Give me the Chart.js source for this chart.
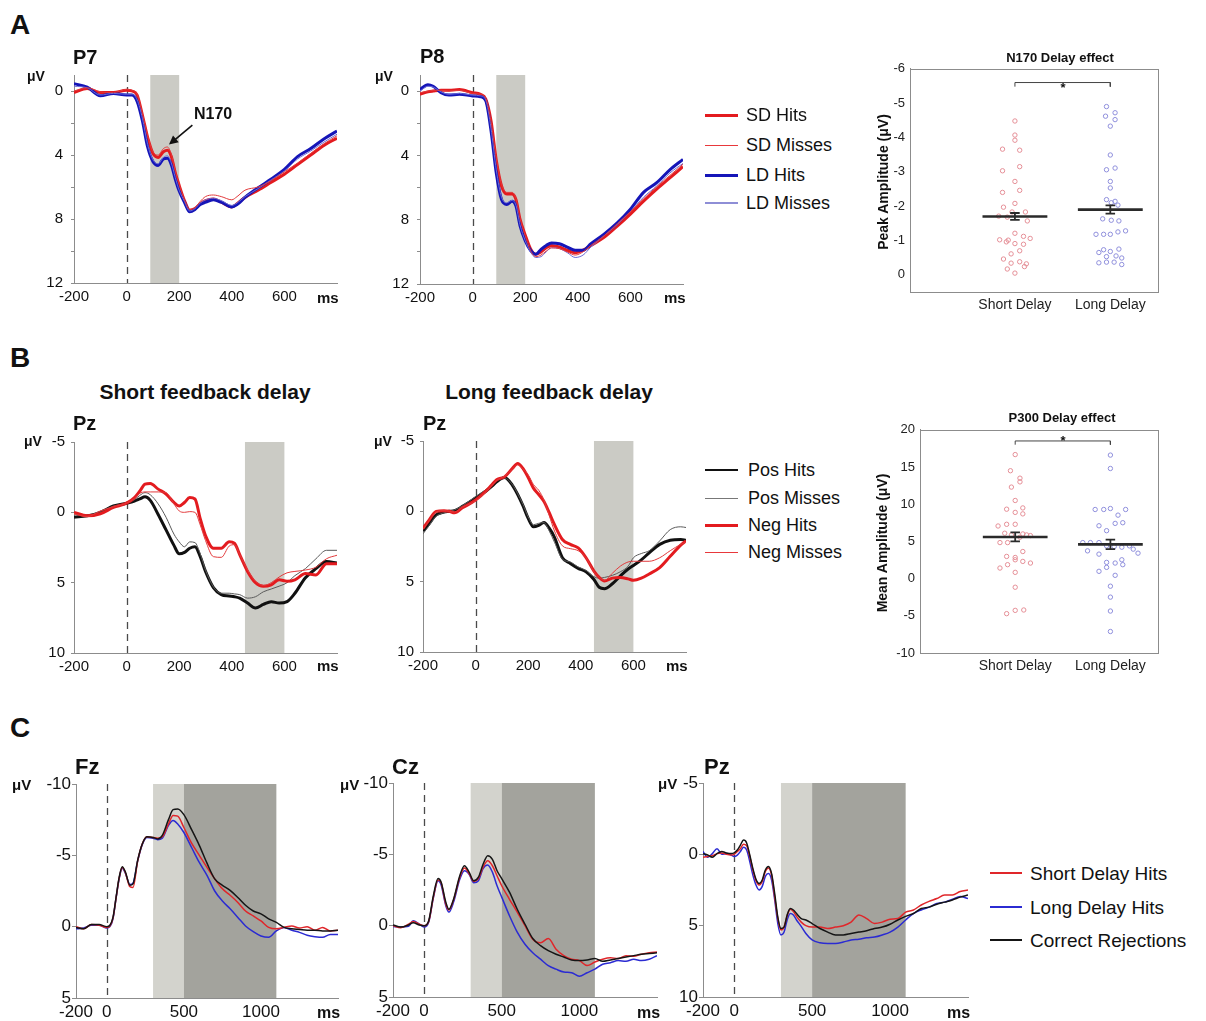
<!DOCTYPE html>
<html><head><meta charset="utf-8">
<script src="https://cdn.jsdelivr.net/npm/chart.js@4.4.1/dist/chart.umd.min.js"></script>
<style>
html,body{margin:0;padding:0;background:#fff;}
#root{position:relative;width:1206px;height:1021px;overflow:hidden;font-family:'Liberation Sans',Arial,Helvetica,sans-serif;color:#111;}
#root canvas{position:absolute;}
.t{position:absolute;white-space:nowrap;line-height:1;}
.ln{position:absolute;}
</style></head><body><div id="root"></div>
<script>
// ---------------- DATA ----------------
// Panel A - P7
const tP7 = [-200,-150,-100,-50,0,20,40,60,80,100,120,140,155,170,185,200,220,240,260,280,300,330,360,400,420,450,500,550,600,650,700,750,800];
const p7SDHits = [0.1,-0.15,0.1,0.1,-0.05,0.0,0.25,1.5,2.9,3.9,4.15,3.8,3.7,4.1,5.1,5.9,6.85,7.45,7.35,7.05,6.85,6.75,6.95,7.25,7.05,6.65,6.2,5.7,5.2,4.6,4.0,3.4,2.95];
const p7SDMiss = [0.0,-0.2,0.05,0.1,-0.1,-0.05,0.2,1.4,2.8,3.8,4.0,3.6,3.5,3.95,5.0,5.85,6.8,7.4,7.3,6.9,6.6,6.5,6.6,6.8,6.6,6.2,6.0,5.6,5.05,4.5,3.9,3.3,2.8];
const p7LDHits = [-0.45,-0.25,0.3,0.15,0.25,0.25,0.65,1.85,3.5,4.4,4.65,4.25,4.2,4.6,5.5,6.25,6.95,7.55,7.4,7.1,6.95,6.8,6.95,7.25,7.1,6.65,6.05,5.5,4.9,4.1,3.6,3.0,2.5];
const p7LDMiss = [-0.3,-0.2,0.25,0.15,0.2,0.2,0.55,1.7,3.35,4.3,4.55,4.15,4.05,4.5,5.4,6.2,6.9,7.5,7.35,7.0,6.8,6.7,6.85,7.15,7.0,6.6,6.1,5.55,5.0,4.25,3.75,3.2,2.7];
// Panel A - P8
const tP8 = [-200,-170,-150,-120,-90,-50,0,30,50,70,90,110,130,150,165,180,200,220,240,260,280,300,330,360,390,420,450,500,550,600,650,700,750,800];
const p8SDHits = [0.2,0.05,0,-0.05,-0.05,-0.1,0.1,0.2,0.5,1.85,4.3,5.9,6.4,6.4,6.75,7.95,8.95,9.8,10.15,10.0,9.75,9.6,9.7,9.9,10.05,9.9,9.6,9.1,8.4,7.65,6.85,6.1,5.4,4.7];
const p8SDMiss = [0.1,0.0,-0.05,-0.05,0,-0.05,0.15,0.2,0.45,1.9,4.2,5.8,6.3,6.3,6.7,7.9,9.0,9.9,10.3,10.2,9.95,9.75,9.8,10.0,10.2,10.0,9.6,9.0,8.25,7.5,6.7,5.95,5.25,4.55];
const p8LDHits = [-0.1,-0.4,-0.3,0.1,0.25,0.2,0.3,0.35,0.6,2.45,5.1,6.75,7.05,6.85,7.15,8.35,9.3,9.9,10.15,9.85,9.6,9.45,9.5,9.7,9.9,9.9,9.5,8.9,8.2,7.35,6.3,5.7,4.9,4.25];
const p8LDMiss = [0.0,-0.3,-0.25,0.05,0.2,0.15,0.25,0.3,0.55,2.3,4.9,6.6,6.95,6.8,7.1,8.3,9.3,10.0,10.35,10.3,10.0,9.75,9.8,10.05,10.35,10.2,9.7,9.0,8.3,7.5,6.6,5.9,5.1,4.5];
// Panel B - Pz short feedback delay
const tBS = [-200,-150,-100,-50,0,30,50,70,90,120,150,180,200,220,240,260,280,300,330,360,390,410,430,460,490,520,550,580,610,640,680,720,760,800];
const bsPosHits = [0.35,0.25,0.0,-0.45,-0.65,-0.8,-0.95,-1.1,-0.85,0.15,1.25,2.35,2.95,2.85,2.55,2.45,3.15,4.2,5.35,5.85,5.95,6.0,6.1,6.45,6.8,6.55,6.35,6.45,6.35,5.75,4.65,4.0,3.5,3.6];
const bsPosMiss = [0.1,0.2,-0.05,-0.45,-0.65,-0.9,-1.2,-1.4,-1.25,-0.6,0.35,1.55,2.1,2.45,2.1,2.15,2.95,4.1,5.3,5.75,5.75,5.8,5.85,6.1,6.0,5.65,5.45,5.25,5.0,4.5,4.0,3.3,2.7,2.7];
const bsNegHits = [0,0.25,0.1,-0.35,-0.65,-1.05,-1.5,-2.0,-2.05,-1.65,-1.3,-0.7,-0.45,-0.7,-1.05,-0.95,0.45,1.65,2.55,2.55,2.1,2.2,3.0,4.2,5.0,5.25,5.15,4.8,4.9,4.8,4.35,4.45,3.65,3.65];
const bsNegMiss = [0.1,0.3,-0.1,-0.4,-0.65,-1.0,-1.35,-1.45,-1.45,-1.45,-1.4,-0.6,-0.1,0.0,-0.05,0.0,0.9,2.0,3.15,3.2,2.4,2.3,3.0,4.1,4.9,5.2,5.0,4.6,4.3,4.2,4.1,3.9,3.3,3.05];
// Panel B - Pz long feedback delay
const tBL = [-200,-180,-150,-120,-100,-80,-50,0,40,60,80,110,140,160,180,200,220,240,260,280,300,330,360,390,420,450,470,490,520,550,580,600,630,660,700,740,780,800];
const blPosHits = [1.4,0.95,0.25,0.05,0.0,-0.05,-0.35,-0.95,-1.45,-1.75,-2.1,-2.4,-1.85,-1.2,-0.4,0.5,1.1,1.0,0.8,1.2,1.85,3.3,3.7,4.05,4.3,4.85,5.4,5.5,5.15,4.6,4.1,3.85,3.45,2.95,2.35,2.05,2.0,2.05];
const blPosMiss = [1.6,1.1,0.35,0.1,0.0,-0.1,-0.4,-1.05,-1.55,-1.8,-2.15,-2.35,-1.9,-1.25,-0.5,0.4,0.95,0.85,0.8,1.4,2.2,3.4,3.6,3.95,4.2,4.65,4.75,4.7,4.55,4.3,3.9,3.3,3.0,2.8,2.1,1.3,1.1,1.15];
const blNegHits = [1.2,0.7,0.0,-0.05,0.0,0.1,-0.25,-0.8,-1.45,-1.85,-2.25,-2.45,-3.05,-3.4,-3.05,-2.4,-1.65,-1.2,-0.7,0.1,0.95,2.0,2.35,2.6,3.3,4.25,4.7,4.95,4.75,4.7,4.8,4.9,4.75,4.45,4.0,3.2,2.4,2.1];
const blNegMiss = [1.3,0.75,0.05,-0.05,0.0,0.05,-0.3,-0.75,-1.4,-1.8,-2.2,-2.5,-3.0,-3.3,-3.0,-2.6,-1.9,-1.5,-0.8,0.3,1.4,2.45,2.65,2.8,3.3,4.3,4.7,4.9,4.4,3.9,3.6,3.55,3.55,3.55,3.3,2.8,2.35,2.2];
// Panel C - Fz
const tFz = [-200,-150,-100,-50,0,20,40,60,80,100,120,150,170,200,230,260,300,330,360,400,430,460,500,550,600,650,700,750,800,850,900,950,1000,1050,1100,1150,1200,1250,1300,1350,1400,1450,1500];
const fzCR = [0.05,0.15,-0.15,-0.15,0,-0.1,-0.65,-2.05,-3.45,-4.2,-3.85,-2.9,-3.0,-4.65,-5.8,-6.3,-6.25,-6.15,-6.4,-7.5,-8.2,-8.25,-7.85,-6.8,-5.7,-4.45,-3.35,-2.9,-2.55,-2.05,-1.5,-1.1,-0.9,-0.55,-0.3,0.05,0.15,0.2,0.25,0.25,0.3,0.3,0.25];
const fzSD = [0.0,0.15,-0.15,-0.1,0.05,-0.05,-0.6,-2.0,-3.4,-4.15,-3.8,-2.8,-2.75,-4.6,-5.8,-6.3,-6.25,-6.2,-6.3,-7.2,-7.8,-7.75,-6.95,-5.85,-5.0,-4.15,-3.35,-2.65,-2.2,-1.7,-1.1,-0.75,-0.4,0.05,0.15,0.05,-0.05,0.1,0.0,0.25,0.05,0.3,0.25];
const fzLD = [0.15,0.1,-0.1,-0.1,0.1,0.0,-0.55,-2.0,-3.35,-4.1,-3.75,-2.95,-3.05,-4.6,-5.75,-6.25,-6.2,-6.1,-6.2,-7.1,-7.45,-7.2,-6.6,-5.55,-4.5,-3.6,-2.5,-1.8,-1.25,-0.65,-0.05,0.35,0.65,0.75,0.3,0.05,0.25,0.4,0.6,0.7,0.75,0.55,0.55];
// Panel C - Cz
const tCz = [-200,-150,-100,-70,-30,0,30,60,90,110,140,160,190,230,260,290,320,350,380,410,440,470,500,550,600,650,700,750,800,850,900,950,1000,1050,1100,1150,1200,1250,1300,1350,1400,1450,1500];
const czCR = [-0.05,0.1,-0.05,-0.2,-0.05,0,-0.35,-2.1,-3.3,-3.05,-1.65,-1.15,-1.85,-3.5,-4.2,-3.75,-3.15,-3.4,-4.3,-4.9,-4.65,-3.85,-3.3,-2.35,-1.15,-0.1,0.9,1.4,1.75,2.0,2.2,2.4,2.45,2.4,2.3,2.5,2.4,2.3,2.2,2.1,2.0,1.95,1.9];
const czSD = [0.0,0.15,-0.1,-0.3,-0.1,0.0,-0.3,-2.0,-3.2,-3.0,-1.5,-1.1,-1.8,-3.4,-4.05,-3.65,-3.1,-3.3,-4.1,-4.55,-4.2,-3.5,-2.8,-1.85,-0.95,0.0,0.95,1.2,0.9,1.65,2.1,2.35,2.45,2.8,2.55,2.35,2.25,2.3,2.1,2.15,2.0,1.9,1.85];
const czLD = [0.05,0.1,0.05,-0.35,-0.1,0.1,-0.25,-1.95,-3.15,-2.85,-1.4,-0.95,-1.65,-3.25,-3.85,-3.6,-3.0,-3.15,-4.0,-4.25,-3.75,-2.8,-2.0,-0.7,0.45,1.3,1.9,2.35,2.8,3.05,3.25,3.3,3.55,3.3,3.05,2.7,2.6,2.45,2.5,2.35,2.45,2.35,2.1];
// Panel C - Pz
const tPzC = [-200,-170,-140,-110,-80,-50,-20,0,20,40,60,80,100,120,140,160,180,200,220,240,260,280,300,320,340,360,380,400,430,460,500,550,600,650,700,750,800,850,900,950,1000,1050,1100,1150,1200,1250,1300,1350,1400,1450,1500];
const pzCR = [-0.05,0.05,0.2,-0.05,-0.2,-0.1,-0.05,-0.1,-0.3,-0.65,-1.0,-0.8,0.05,1.0,1.75,2.05,1.8,1.1,0.85,1.35,2.75,4.4,5.2,5.1,4.25,3.8,3.9,4.15,4.5,4.6,4.85,5.2,5.45,5.65,5.65,5.55,5.45,5.35,5.2,5.1,4.9,4.6,4.35,4.15,3.8,3.7,3.5,3.35,3.2,3.0,2.85];
const pzSD = [0.2,0.15,0.1,-0.05,-0.1,0.0,0.05,0.0,-0.2,-0.4,-0.7,-0.6,0.15,1.1,1.85,2.15,1.9,1.2,0.95,1.45,3.0,4.5,5.3,5.1,4.3,3.85,4.0,4.35,4.75,5.0,5.1,5.1,5.2,5.1,5.0,4.75,4.25,4.5,4.85,4.75,4.55,4.5,4.05,3.9,3.55,3.3,3.1,2.85,2.85,2.6,2.5];
const pzLD = [-0.2,0.2,-0.05,-0.4,0.0,-0.05,0.05,0.15,0.05,-0.2,-0.5,-0.3,0.5,1.45,2.15,2.5,2.25,1.55,1.35,1.8,3.2,4.85,5.65,5.45,4.6,4.15,4.25,4.6,5.05,5.55,6.0,6.2,6.25,6.25,6.15,6.0,5.95,5.85,5.8,5.65,5.45,5.1,4.6,4.15,3.9,3.7,3.45,3.35,3.15,2.95,3.1];
// Shaded analysis windows (ms)
const winN170 = [90, 200];
const winP300 = [450, 600];
const winCEarly = [300, 500];
const winCLate = [500, 1100];
// Tick values
const xTicksAB = [-200, 0, 200, 400, 600];
const xTicksC = [-200, 0, 500, 1000];
const yTicksA = [0, 2, 4, 6, 8, 10, 12];
const yLabelsA = [0, 4, 8, 12];
const yTicksB = [-5, 0, 5, 10];
const yTicksCa = [-10, -5, 0, 5];
const yTicksCb = [-5, 0, 5, 10];
// Scatter: categories and per-subject values (jitter = horizontal spread)
const categories = ['Short Delay', 'Long Delay'];
const n170Short = [-4.48,-4.07,-3.92,-3.66,-3.63,-3.15,-3.03,-2.72,-2.40,-2.46,-1.97,-2.08,-1.83,-1.83,-1.71,-1.57,-1.68,-1.21,-1.12,-1.02,-1.01,-0.96,-1.06,-0.91,-0.89,-0.70,-0.61,-0.46,-0.38,-0.34,-0.32,-0.24,-0.17,-0.05];
const n170ShortJit = [0,0,0,-0.13,0.05,0.05,-0.13,0,-0.13,0.05,-0.12,0,-0.03,0.11,-0.17,0.13,-0.08,0,0.09,-0.16,-0.07,-0.09,0.16,0,0.09,0.05,-0.04,-0.12,0.05,-0.04,0.12,0.1,-0.08,0];
const n170Long = [-4.90,-4.62,-4.72,-4.52,-4.33,-3.49,-3.06,-3.11,-2.72,-2.53,-2.19,-2.14,-2.03,-2.10,-1.63,-1.59,-1.57,-1.18,-1.18,-1.18,-1.25,-1.28,-0.73,-0.68,-0.75,-0.65,-0.53,-0.55,-0.49,-0.35,-0.37,-0.37,-0.30];
const n170LongJit = [-0.04,-0.05,0.05,0.05,0,0,-0.04,0.05,0,0,-0.04,0.05,0.08,0.01,-0.08,0.01,0.09,-0.15,-0.07,0,0.08,0.16,-0.07,0,0.09,-0.12,-0.04,0.06,0.12,-0.12,-0.04,0.04,0.12];
const n170Mean = [-1.7, -1.9];
const n170SE = [0.1, 0.12];
const p300Short = [16.67,14.5,13.5,13.0,12.3,10.5,9.33,9.5,8.9,8.7,7.07,7.3,7.3,6.1,6.0,5.87,5.87,5.78,5.56,4.84,4.84,3.64,2.98,2.84,2.53,2.31,2.09,1.87,1.42,0.84,-1.16,-4.27,-4.22,-4.71];
const p300ShortJit = [0,-0.05,0.05,0.05,-0.04,0,-0.09,0.08,0,0.08,-0.18,-0.09,0,-0.11,0.08,-0.04,0.12,0.16,0.05,-0.16,-0.08,0.08,-0.09,0,0,0.08,0.16,-0.08,-0.16,0,0,0,0.09,-0.09];
const p300Long = [16.6,14.8,9.29,9.29,9.42,9.29,8.53,7.1,7.42,7.51,6.44,4.84,4.84,4.84,4.4,4.31,4.22,4.4,3.96,3.42,3.73,3.29,2.53,2.18,2.09,1.87,1.51,0.98,0.44,-1.02,-2.49,-4.36,-7.11];
const p300LongJit = [0,0,-0.16,-0.07,0,0.16,0.08,-0.12,0.05,0.13,-0.04,-0.29,-0.21,-0.12,-0.04,0.04,0.12,0.2,0.24,0.29,-0.24,-0.12,0.12,-0.04,0.05,0.13,-0.04,-0.12,0.05,0,0,0,0];
const p300Mean = [5.6, 4.6];
const p300SE = [0.6, 0.65];

// ---------------- RENDERING ----------------
const FONT = "'Liberation Sans', Arial, Helvetica, sans-serif";
Chart.defaults.font.family = FONT;
const root = document.getElementById('root');
const AXC = '#8c8c8c';

function txt(s, x, y, size, bold, align, extra, color) {
  const d = document.createElement('div');
  d.className = 't'; d.textContent = s;
  d.style.left = x + 'px'; d.style.top = y + 'px';
  d.style.fontSize = size + 'px'; d.style.fontWeight = bold ? 'bold' : 'normal';
  if (color) d.style.color = color;
  const tx = align === 'center' ? '-50%' : (align === 'right' ? '-100%' : '0');
  d.style.transform = 'translate(' + tx + ',-50%)' + (extra || '');
  root.appendChild(d);
}
function legend(x1, x2, tx, rows, size) {
  rows.forEach(r => {
    const l = document.createElement('div');
    l.className = 'ln';
    l.style.left = x1 + 'px'; l.style.width = (x2 - x1) + 'px';
    l.style.top = Math.round(r.y - r.w / 2) + 'px'; l.style.height = Math.max(1, Math.round(r.w)) + 'px';
    l.style.background = r.c;
    root.appendChild(l);
    txt(r.label, tx, r.y, size, false, 'left');
  });
}
function mkCanvas(left, top, w, h) {
  const c = document.createElement('canvas');
  c.width = w; c.height = h;
  c.style.left = left + 'px'; c.style.top = top + 'px';
  c.style.width = w + 'px'; c.style.height = h + 'px';
  root.appendChild(c);
  return c;
}
function series(t, v, color, width, order) {
  return { data: t.map((x, i) => ({ x: x, y: v[i] })), borderColor: color, borderWidth: width,
    pointRadius: 0, fill: false, tension: 0.4, cubicInterpolationMode: 'monotone', order: order };
}

function erp(o) {
  const AX = 60, PT = 12, PR = 14, XH = 32;
  const cv = mkCanvas(o.L - AX, o.T - PT, (o.R - o.L) + AX + PR, (o.B - o.T) + PT + XH);
  const bg = {
    id: 'bg',
    beforeDatasetsDraw(chart) {
      const a = chart.chartArea, xs = chart.scales.x, ctx = chart.ctx;
      ctx.save();
      (o.shades || []).forEach(s => {
        const x0 = xs.getPixelForValue(s[0]), x1 = xs.getPixelForValue(s[1]);
        ctx.fillStyle = s[2];
        ctx.fillRect(x0, a.top, x1 - x0, a.bottom - a.top);
      });
      const z = Math.round(xs.getPixelForValue(0)) + 0.5;
      ctx.strokeStyle = '#4a4a4a'; ctx.lineWidth = 1.3; ctx.setLineDash([7, 5]);
      ctx.beginPath(); ctx.moveTo(z, a.top); ctx.lineTo(z, a.bottom); ctx.stroke();
      ctx.restore();
    },
    afterDatasetsDraw(chart) { if (o.after) o.after(chart); }
  };
  new Chart(cv, {
    type: 'line',
    data: { datasets: o.datasets },
    options: {
      responsive: false, animation: false, devicePixelRatio: 1,
      layout: { padding: { top: PT, right: PR, left: 0, bottom: 0 } },
      plugins: { legend: { display: false }, tooltip: { enabled: false } },
      scales: {
        x: { type: 'linear', min: o.xMin, max: o.xMax,
          afterBuildTicks: s => { s.ticks = o.xTicks.map(v => ({ value: v })); },
          afterFit: s => { s.height = XH; },
          ticks: { font: { size: o.fs, family: FONT }, color: '#111', padding: o.xPad, maxRotation: 0, autoSkip: false, callback: v => String(v) },
          grid: { drawOnChartArea: false, drawTicks: false },
          border: { display: true, color: AXC, width: 1 } },
        y: { type: 'linear', reverse: true, min: o.yMin, max: o.yMax,
          afterBuildTicks: s => { s.ticks = o.yTicks.map(v => ({ value: v })); },
          afterFit: s => { s.width = AX; },
          ticks: { font: { size: o.fs, family: FONT }, color: '#111', padding: o.yPad, autoSkip: false,
            callback: v => (o.yLabels ? (o.yLabels.includes(v) ? String(v) : '') : String(v)) },
          grid: { drawOnChartArea: false, drawTicks: true, tickLength: o.tl, tickColor: AXC },
          border: { display: true, color: AXC, width: 1 } }
      }
    },
    plugins: [bg]
  });
}

function scatter(o) {
  const AX = 45, PT = 12, PR = 14, XH = 30;
  const cv = mkCanvas(o.L - AX, o.T - PT, (o.R - o.L) + AX + PR, (o.B - o.T) + PT + XH);
  const ds = [];
  o.groups.forEach((g, gi) => {
    const cx = gi + 1;
    ds.push({ type: 'scatter', data: g.vals.map((v, i) => ({ x: cx + g.jit[i], y: v })),
      pointRadius: 2.2, pointBorderWidth: 1, pointBorderColor: g.color, pointBackgroundColor: 'rgba(0,0,0,0)', showLine: false, order: 5 });
    const m = o.mean[gi], se = o.se[gi], c = 0.05, hw = 0.34;
    ds.push({ type: 'line', data: [{ x: cx - hw, y: m }, { x: cx + hw, y: m }], borderColor: '#2a2a2a', borderWidth: 2.6, pointRadius: 0, order: 1 });
    ds.push({ type: 'line', data: [{ x: cx - c, y: m - se }, { x: cx + c, y: m - se }, { x: cx, y: null }, { x: cx, y: m - se }, { x: cx, y: m + se }, { x: cx, y: null }, { x: cx - c, y: m + se }, { x: cx + c, y: m + se }],
      borderColor: '#2a2a2a', borderWidth: 1.8, pointRadius: 0, spanGaps: false, order: 0 });
  });
  const b = o.bracket;
  ds.push({ type: 'line', data: [{ x: 1, y: b[0] + b[1] }, { x: 1, y: b[0] }, { x: 2, y: b[0] }, { x: 2, y: b[0] + b[1] }], borderColor: '#444', borderWidth: 1, pointRadius: 0, order: 2 });
  const frame = { id: 'frame', afterDraw(chart) {
    const a = chart.chartArea, ctx = chart.ctx;
    ctx.save(); ctx.strokeStyle = AXC; ctx.lineWidth = 1;
    ctx.strokeRect(Math.round(a.left) + 0.5, Math.round(a.top) + 0.5, Math.round(a.right - a.left), Math.round(a.bottom - a.top));
    ctx.restore();
  } };
  new Chart(cv, {
    type: 'scatter',
    data: { datasets: ds },
    options: {
      responsive: false, animation: false, devicePixelRatio: 1,
      layout: { padding: { top: PT, right: PR, left: 0, bottom: 0 } },
      plugins: { legend: { display: false }, tooltip: { enabled: false } },
      scales: {
        x: { type: 'linear', min: o.xMin, max: o.xMax,
          afterBuildTicks: s => { s.ticks = [1, 2].map(v => ({ value: v })); },
          afterFit: s => { s.height = XH; },
          ticks: { font: { size: 14, family: FONT }, color: '#222', padding: 5, maxRotation: 0, autoSkip: false, callback: v => categories[v - 1] },
          grid: { drawOnChartArea: false, drawTicks: false },
          border: { display: true, color: AXC } },
        y: { type: 'linear', reverse: o.reverse, min: o.yMin, max: o.yMax,
          afterBuildTicks: s => { s.ticks = o.yTicks.map(v => ({ value: v })); },
          afterFit: s => { s.width = AX; },
          ticks: { font: { size: 13, family: FONT }, color: '#222', padding: 5, autoSkip: false, callback: v => String(v) },
          grid: { drawOnChartArea: false, drawTicks: false },
          border: { display: true, color: AXC } }
      }
    },
    plugins: [frame]
  });
}

// Colours
const RED = '#e31b1f', REDT = '#e23a3c', BLUE = '#1515b8', BLUET = '#6b6bd6', BLK = '#111111', GRY = '#5a5a5a';
const SHADE = '#cbcbc5', SHADE_L = '#d3d3cd', SHADE_D = '#a3a39d';
const CR = '#e0262a', CB = '#2b2bd2', CK = '#151515';

// ---- Row A ----
erp({ L: 74, T: 70, R: 337, B: 283, xMin: -200, xMax: 800, xTicks: xTicksAB, yMin: -1, yMax: 12, yTicks: yTicksA, yLabels: yLabelsA,
  fs: 15, tl: 3, yPad: 8, xPad: 5, shades: [[winN170[0], winN170[1], SHADE]],
  datasets: [series(tP7, p7SDMiss, REDT, 1, 0), series(tP7, p7LDMiss, BLUET, 1, 1), series(tP7, p7LDHits, BLUE, 3, 2), series(tP7, p7SDHits, RED, 3, 3)],
  after: chart => {
    const xs = chart.scales.x, ys = chart.scales.y, ctx = chart.ctx;
    const x1 = xs.getPixelForValue(250), y1 = ys.getPixelForValue(2.14);
    const x2 = xs.getPixelForValue(161), y2 = ys.getPixelForValue(3.35);
    const ang = Math.atan2(y2 - y1, x2 - x1);
    ctx.save(); ctx.strokeStyle = '#111'; ctx.fillStyle = '#111'; ctx.lineWidth = 1.6;
    ctx.beginPath(); ctx.moveTo(x1, y1); ctx.lineTo(x2 - 6 * Math.cos(ang), y2 - 6 * Math.sin(ang)); ctx.stroke();
    ctx.beginPath(); ctx.moveTo(x2, y2);
    ctx.lineTo(x2 - 9 * Math.cos(ang) + 4.5 * Math.sin(ang), y2 - 9 * Math.sin(ang) - 4.5 * Math.cos(ang));
    ctx.lineTo(x2 - 9 * Math.cos(ang) - 4.5 * Math.sin(ang), y2 - 9 * Math.sin(ang) + 4.5 * Math.cos(ang));
    ctx.closePath(); ctx.fill(); ctx.restore();
  } });
erp({ L: 420, T: 70, R: 683, B: 284, xMin: -200, xMax: 800, xTicks: xTicksAB, yMin: -1, yMax: 12, yTicks: yTicksA, yLabels: yLabelsA,
  fs: 15, tl: 3, yPad: 8, xPad: 5, shades: [[winN170[0], winN170[1], SHADE]],
  datasets: [series(tP8, p8SDMiss, REDT, 1, 0), series(tP8, p8LDMiss, BLUET, 1, 1), series(tP8, p8LDHits, BLUE, 3, 2), series(tP8, p8SDHits, RED, 3, 3)] });
scatter({ L: 910, T: 68, R: 1158, B: 292, xMin: -0.1, xMax: 2.5, yMin: -6, yMax: 0.5, reverse: true, yTicks: [-6, -5, -4, -3, -2, -1, 0],
  groups: [{ vals: n170Short, jit: n170ShortJit, color: '#e58f97' }, { vals: n170Long, jit: n170LongJit, color: '#8f8fdc' }],
  mean: n170Mean, se: n170SE, bracket: [-5.6, 0.12] });

// ---- Row B ----
erp({ L: 74, T: 439, R: 337, B: 653, xMin: -200, xMax: 800, xTicks: xTicksAB, yMin: -5, yMax: 10, yTicks: yTicksB,
  fs: 15, tl: 3, yPad: 6, xPad: 5, shades: [[winP300[0], winP300[1], SHADE]],
  datasets: [series(tBS, bsNegMiss, REDT, 1, 0), series(tBS, bsNegHits, RED, 3, 1), series(tBS, bsPosMiss, GRY, 1, 2), series(tBS, bsPosHits, BLK, 3, 3)] });
erp({ L: 423, T: 438, R: 686, B: 652, xMin: -200, xMax: 800, xTicks: xTicksAB, yMin: -5, yMax: 10, yTicks: yTicksB,
  fs: 15, tl: 3, yPad: 6, xPad: 5, shades: [[winP300[0], winP300[1], SHADE]],
  datasets: [series(tBL, blNegMiss, REDT, 1, 0), series(tBL, blNegHits, RED, 3, 1), series(tBL, blPosMiss, GRY, 1, 2), series(tBL, blPosHits, BLK, 3, 3)] });
scatter({ L: 920, T: 429, R: 1158, B: 653, xMin: 0, xMax: 2.5, yMin: -10, yMax: 20, reverse: false, yTicks: [-10, -5, 0, 5, 10, 15, 20],
  groups: [{ vals: p300Short, jit: p300ShortJit, color: '#e58f97' }, { vals: p300Long, jit: p300LongJit, color: '#8f8fdc' }],
  mean: p300Mean, se: p300SE, bracket: [18.5, -0.5] });

// ---- Row C ----
const cShades = [[winCEarly[0], winCEarly[1], SHADE_L], [winCLate[0], winCLate[1], SHADE_D]];
erp({ L: 76, T: 784, R: 338, B: 998, xMin: -200, xMax: 1500, xTicks: xTicksC, yMin: -10, yMax: 5, yTicks: yTicksCa,
  fs: 17, tl: 4, yPad: 1, xPad: 4, shades: cShades,
  datasets: [series(tFz, fzCR, CK, 1.5, 0), series(tFz, fzSD, CR, 1.5, 1), series(tFz, fzLD, CB, 1.5, 2)] });
erp({ L: 393, T: 783, R: 657, B: 997, xMin: -200, xMax: 1500, xTicks: xTicksC, yMin: -10, yMax: 5, yTicks: yTicksCa,
  fs: 17, tl: 4, yPad: 1, xPad: 4, shades: cShades,
  datasets: [series(tCz, czCR, CK, 1.5, 0), series(tCz, czSD, CR, 1.5, 1), series(tCz, czLD, CB, 1.5, 2)] });
erp({ L: 703, T: 783, R: 968, B: 997, xMin: -200, xMax: 1500, xTicks: xTicksC, yMin: -5, yMax: 10, yTicks: yTicksCb,
  fs: 17, tl: 4, yPad: 1, xPad: 4, shades: cShades,
  datasets: [series(tPzC, pzCR, CK, 1.5, 0), series(tPzC, pzSD, CR, 1.5, 1), series(tPzC, pzLD, CB, 1.5, 2)] });

// ---------------- TEXT ----------------
txt('A', 10, 25, 28, true, 'left');
txt('B', 10, 358, 28, true, 'left');
txt('C', 10, 728, 28, true, 'left');
// Row A
txt('P7', 73, 57, 20, true, 'left');
txt('P8', 420, 56, 20, true, 'left');
txt('μV', 27, 76, 14, true, 'left');
txt('μV', 375, 76, 14, true, 'left');
txt('N170', 194, 114, 16, true, 'left');
txt('ms', 317, 297, 15, true, 'left');
txt('ms', 664, 297, 15, true, 'left');
legend(705, 738, 746, [
  { y: 115, c: RED, w: 3, label: 'SD Hits' },
  { y: 145, c: '#e8383b', w: 1, label: 'SD Misses' },
  { y: 175, c: BLUE, w: 3, label: 'LD Hits' },
  { y: 203, c: '#8e8ed6', w: 2, label: 'LD Misses' }], 18);
txt('N170 Delay effect', 1060, 57, 13, true, 'center');
txt('Peak Amplitude (μV)', 883, 182, 14, true, 'center', ' rotate(-90deg)');
txt('*', 1063, 87, 13, true, 'center');
// Row B
txt('Short feedback delay', 205, 391, 21, true, 'center');
txt('Long feedback delay', 549, 391, 21, true, 'center');
txt('Pz', 73, 423, 20, true, 'left');
txt('Pz', 423, 423, 20, true, 'left');
txt('μV', 24, 441, 14, true, 'left');
txt('μV', 374, 441, 14, true, 'left');
txt('ms', 317, 665, 15, true, 'left');
txt('ms', 666, 665, 15, true, 'left');
legend(705, 738, 748, [
  { y: 470, c: BLK, w: 2, label: 'Pos Hits' },
  { y: 498, c: '#777', w: 1, label: 'Pos Misses' },
  { y: 525, c: RED, w: 3, label: 'Neg Hits' },
  { y: 552, c: '#e8383b', w: 1, label: 'Neg Misses' }], 18);
txt('P300 Delay effect', 1062, 417, 13, true, 'center');
txt('Mean Amplitude (μV)', 882, 543, 14, true, 'center', ' rotate(-90deg)');
txt('*', 1063, 440, 13, true, 'center');
// Row C
txt('Fz', 75, 767, 22, true, 'left');
txt('Cz', 392, 767, 22, true, 'left');
txt('Pz', 704, 767, 22, true, 'left');
txt('μV', 12, 784, 15, true, 'left');
txt('μV', 340, 784, 15, true, 'left');
txt('μV', 658, 783, 15, true, 'left');
txt('ms', 317, 1013, 16, true, 'left');
txt('ms', 637, 1013, 16, true, 'left');
txt('ms', 947, 1013, 16, true, 'left');
legend(990, 1022, 1030, [
  { y: 873, c: CR, w: 2, label: 'Short Delay Hits' },
  { y: 907, c: CB, w: 2, label: 'Long Delay Hits' },
  { y: 940, c: CK, w: 2, label: 'Correct Rejections' }], 19);
</script></body></html>
